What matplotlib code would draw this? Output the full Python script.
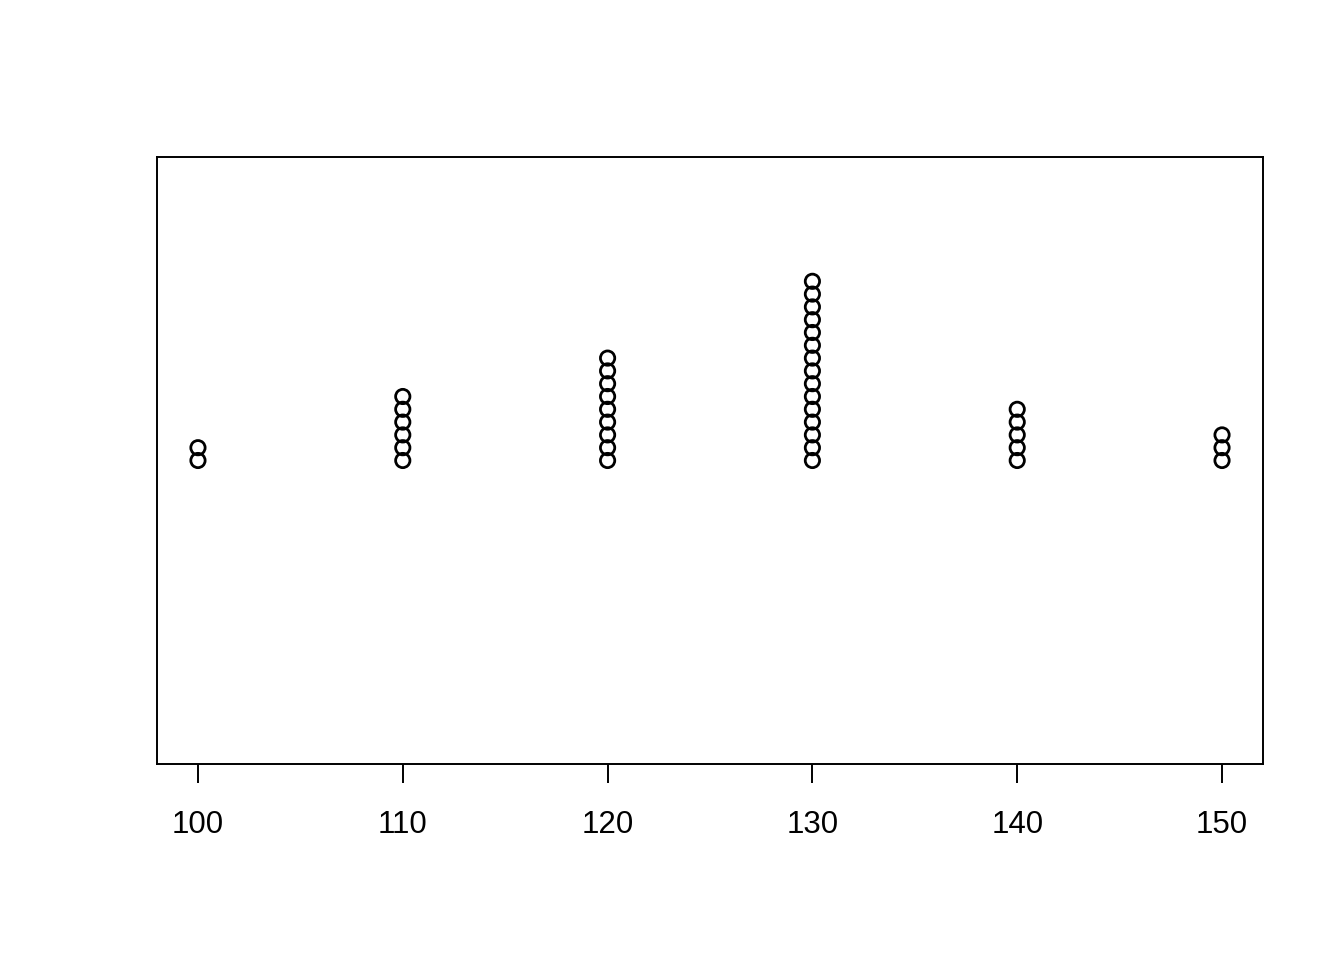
import numpy as np
import matplotlib.pyplot as plt

# valores y cantidad de observaciones en cada uno
valores = [100, 110, 120, 130, 140, 150]
conteos = [2, 6, 9, 15, 5, 3]

datos = np.repeat(valores, conteos)

plt.rcParams['font.family'] = ['Liberation Sans', 'DejaVu Sans']

fig = plt.figure(figsize=(13.44, 9.6), dpi=100)
ax = fig.add_axes([157 / 1344, 1 - 764 / 960, (1263 - 157) / 1344, (764 - 157) / 960])

# apilar puntos como stripchart(method="stack")
paso = 12.8 / 607 * 2.0
xs, ys = [], []
for v in valores:
    n = int((datos == v).sum())
    for i in range(n):
        xs.append(v)
        ys.append(1 + i * paso)

ax.scatter(xs, ys, s=10.3 ** 2, facecolors='none', edgecolors='black', linewidths=2.0, zorder=3)

ax.set_xlim(98, 152)
ax.set_ylim(0, 2)
ax.set_xticks(valores)
ax.set_xticklabels([str(v) for v in valores])
ax.set_yticks([])
ax.tick_params(axis='x', length=14, width=1.4, labelsize=22.5, pad=19)
for s in ax.spines.values():
    s.set_linewidth(1.4)

fig.savefig("out.png", dpi=100)
